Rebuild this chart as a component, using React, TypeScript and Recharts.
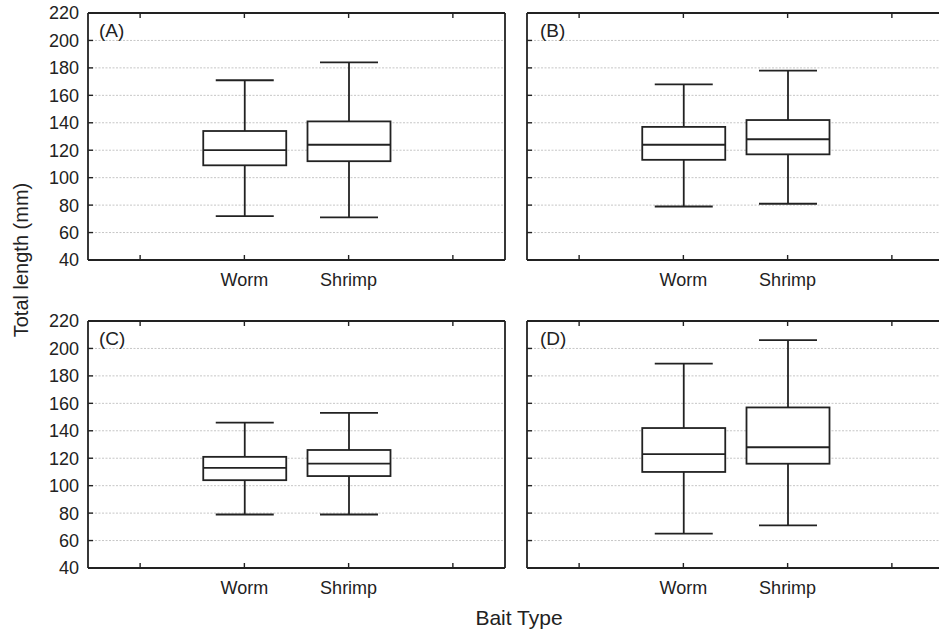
import { ComposedChart, Bar, XAxis, YAxis, CartesianGrid } from 'recharts';

const categories = ['', 'Worm', 'Shrimp', ' '];
const yTicks = [40, 60, 80, 100, 120, 140, 160, 180, 200, 220];
const panelLabels = ['(A)', '(B)', '(C)', '(D)'];

// one row per panel (A..D), each row is [Worm, Shrimp]
const whiskerLow = [[72, 71], [79, 81], [79, 79], [65, 71]];
const quartile1 = [[109, 112], [113, 117], [104, 107], [110, 116]];
const medians = [[120, 124], [124, 128], [113, 116], [123, 128]];
const quartile3 = [[134, 141], [137, 142], [121, 126], [142, 157]];
const whiskerHigh = [[171, 184], [168, 178], [146, 153], [189, 206]];

const INK = '#222';
const FONT = '"Liberation Sans", Arial, sans-serif';

function buildRows(p: number) {
  return categories.map((name, i) => {
    const k = i - 1;
    if (k < 0 || k > 1) return { name };
    return {
      name,
      range: [whiskerLow[p][k], whiskerHigh[p][k]],
      q1: quartile1[p][k],
      med: medians[p][k],
      q3: quartile3[p][k],
    };
  });
}

// whiskers span the bar; quartiles/median placed on the same linear scale
function BoxShape(props: any) {
  const { x, y, width, height, payload } = props;
  if (!payload || !payload.range) return <g />;
  const [lo, hi] = payload.range;
  const top = Math.min(y, y + height);
  const bot = Math.max(y, y + height);
  const py = (v: number) => bot - ((v - lo) / (hi - lo)) * (bot - top);
  const cx = x + width / 2;
  const cap = 29;
  const yq3 = py(payload.q3);
  const yq1 = py(payload.q1);
  const ym = py(payload.med);
  return (
    <g stroke={INK} strokeWidth={1.8} fill="none">
      <line x1={cx} x2={cx} y1={top} y2={yq3} />
      <line x1={cx} x2={cx} y1={yq1} y2={bot} />
      <line x1={cx - cap} x2={cx + cap} y1={top} y2={top} />
      <line x1={cx - cap} x2={cx + cap} y1={bot} y2={bot} />
      <rect x={x} y={yq3} width={width} height={yq1 - yq3} fill="#fff" />
      <line x1={x} x2={x + width} y1={ym} y2={ym} />
    </g>
  );
}

const layout = [
  { left: 0, top: 0, w: 520, ml: 48, yw: 40, labels: true },
  { left: 520, top: 0, w: 439, ml: 6, yw: 1, labels: false },
  { left: 0, top: 308, w: 520, ml: 48, yw: 40, labels: true },
  { left: 520, top: 308, w: 439, ml: 6, yw: 1, labels: false },
];

const axisLine = { stroke: INK, strokeWidth: 1.8 };
const tickLine = { stroke: INK, strokeWidth: 1.4 };
const blank = () => '';

function Panel({ index }: { index: number }) {
  const l = layout[index];
  return (
    <div style={{ position: 'absolute', left: l.left, top: l.top }}>
      <ComposedChart
        width={l.w}
        height={300}
        data={buildRows(index)}
        margin={{ top: 12, right: 14, bottom: 10, left: l.ml }}
      >
        <CartesianGrid
          xAxisId="b"
          yAxisId="l"
          vertical={false}
          stroke="#c6c6c6"
          strokeDasharray="2 1.5"
        />
        <XAxis
          xAxisId="b"
          dataKey="name"
          orientation="bottom"
          height={30}
          interval={0}
          tickSize={-5}
          tickMargin={18}
          axisLine={axisLine}
          tickLine={tickLine}
          tick={{ fill: INK, fontSize: 18, fontFamily: FONT }}
        />
        <XAxis
          xAxisId="t"
          dataKey="name"
          orientation="top"
          height={1}
          interval={0}
          tickSize={-5}
          axisLine={axisLine}
          tickLine={tickLine}
          tickFormatter={blank}
        />
        <YAxis
          yAxisId="l"
          domain={[40, 220]}
          ticks={yTicks}
          interval={0}
          width={l.yw}
          tickSize={-5}
          tickMargin={14}
          axisLine={axisLine}
          tickLine={tickLine}
          tick={{ fill: INK, fontSize: 18, fontFamily: FONT }}
          tickFormatter={l.labels ? undefined : blank}
        />
        <YAxis
          yAxisId="r"
          orientation="right"
          domain={[40, 220]}
          ticks={yTicks}
          interval={0}
          width={1}
          tickSize={-5}
          axisLine={axisLine}
          tickLine={tickLine}
          tickFormatter={blank}
        />
        <Bar
          xAxisId="b"
          yAxisId="l"
          dataKey="range"
          barSize={83}
          shape={BoxShape}
          isAnimationActive={false}
        />
      </ComposedChart>
    </div>
  );
}

const letterPos = [
  { x: 99, y: 37 },
  { x: 540, y: 37 },
  { x: 99, y: 345 },
  { x: 540, y: 345 },
];

export default function App() {
  return (
    <div
      style={{
        position: 'absolute',
        left: 0,
        top: 0,
        width: 939,
        height: 634,
        overflow: 'hidden',
        background: '#fff',
        fontFamily: FONT,
      }}
    >
      {panelLabels.map((_, i) => (
        <Panel key={i} index={i} />
      ))}
      <svg
        width={939}
        height={634}
        style={{ position: 'absolute', left: 0, top: 0, pointerEvents: 'none' }}
      >
        {panelLabels.map((t, i) => (
          <text key={t} x={letterPos[i].x} y={letterPos[i].y} fontSize={19} fill={INK} fontFamily={FONT}>
            {t}
          </text>
        ))}
        <text x={519} y={625} fontSize={21} fill={INK} fontFamily={FONT} textAnchor="middle">
          Bait Type
        </text>
        <text
          x={28}
          y={260}
          fontSize={20}
          fill={INK}
          fontFamily={FONT}
          textAnchor="middle"
          transform="rotate(-90 28 260)"
        >
          Total length (mm)
        </text>
      </svg>
    </div>
  );
}
